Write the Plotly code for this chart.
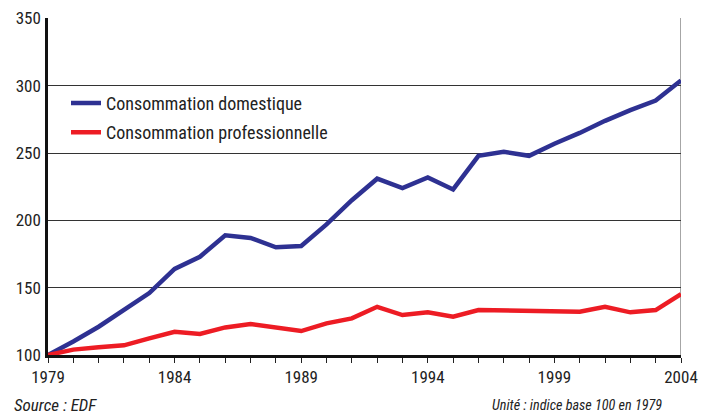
import plotly.graph_objects as go

years = list(range(1979, 2005))
domestique = [100, 110, 121, 134, 146, 164, 173, 189, 187, 180, 181, 197, 215, 231, 224,
              232, 223, 248, 251, 248, 257, 265, 274, 282, 289, 304]
professionnelle = [100, 104, 105.7, 107.2, 112.4, 117.3, 115.6, 120.5, 123, 120, 117.8, 123.5,
                   127.2, 135.8, 129.7, 131.7, 128.4, 133.4, 133.2, 132.8, 132.5, 132.1, 135.8,
                   131.7, 133.4, 145.3]
x_tick_labels = [1979, 1984, 1989, 1994, 1999, 2004]
y_tick_labels = [100, 150, 200, 250, 300, 350]

FONT = "Roboto Condensed, Liberation Sans Narrow, sans-serif"
PW, PH = 633, 337

fig = go.Figure()
fig.add_trace(go.Scatter(x=years, y=domestique, mode="lines", name="Consommation domestique",
                         legendgroup="a", line=dict(color="#2e3192", width=4.5)))
fig.add_trace(go.Scatter(x=years, y=professionnelle, mode="lines", name="Consommation professionnelle",
                         legendgroup="b", line=dict(color="#ed1c24", width=4.5)))

fig.add_shape(type="line", xref="x", yref="paper", x0=2004, x1=2004, y0=0, y1=1,
              line=dict(color="#888888", width=1.5), layer="below")

fig.update_layout(
    width=699, height=410,
    margin=dict(l=40, r=26, t=10, b=63, autoexpand=False),
    plot_bgcolor="white", paper_bgcolor="white",
    font=dict(family=FONT, size=17, color="#222222"),
    showlegend=True,
    legend=dict(x=18 / PW, y=0.802, xanchor="left", yanchor="top", bgcolor="rgba(0,0,0,0)",
                font=dict(family=FONT, size=18, color="#222222"), tracegroupgap=3,
                itemwidth=30),
    xaxis=dict(range=[1979, 2004], tickvals=x_tick_labels, ticktext=[str(v) for v in x_tick_labels],
               ticks="outside", ticklen=5, tickcolor="#222", showgrid=False, zeroline=False,
               showline=True, linecolor="#111111", linewidth=2.5, automargin=False,
               minor=dict(dtick=1, tick0=1979, ticks="outside", ticklen=5, tickcolor="#222", showgrid=False),
               tickfont=dict(family=FONT, size=17)),
    yaxis=dict(range=[100, 350.4], tickvals=y_tick_labels, ticks="", showgrid=True,
               gridcolor="#333333", gridwidth=1, zeroline=False, showline=True, automargin=False,
               linecolor="#111111", linewidth=2.5, tickfont=dict(family=FONT, size=17),
               ticklabelstandoff=1, ticklabeloverflow="allow"),
    annotations=[
        dict(text="<i>Source : EDF</i>", xref="paper", yref="paper", x=-36 / PW, y=-50 / PH,
             xanchor="left", yanchor="middle", showarrow=False,
             font=dict(family=FONT, size=17, color="#222222")),
        dict(text="<i>Unité : indice base 100 en 1979</i>", xref="paper", yref="paper",
             x=(656 - 40) / PW, y=-50 / PH, xanchor="right", yanchor="middle", showarrow=False,
             font=dict(family=FONT, size=14.2, color="#222222")),
    ],
)

fig.write_html("out.html")
